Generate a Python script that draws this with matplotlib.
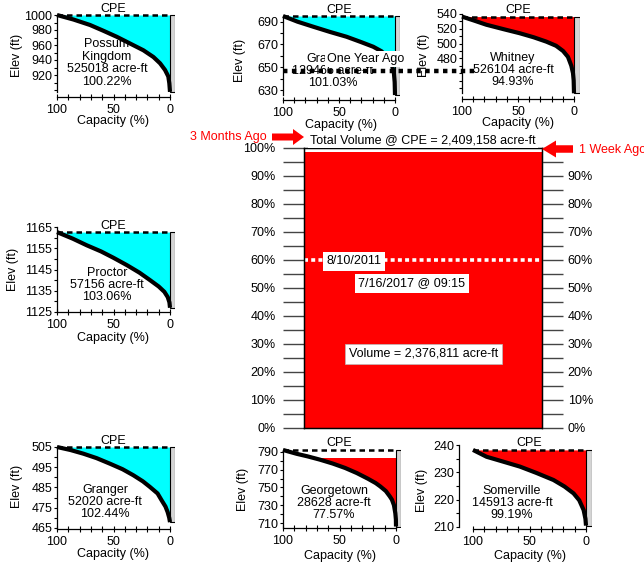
import matplotlib
matplotlib.use('Agg')
import matplotlib.pyplot as plt
from matplotlib.patches import Rectangle, FancyArrow
from matplotlib.ticker import MultipleLocator, FixedLocator

plt.rcParams['font.family'] = ['Liberation Sans', 'DejaVu Sans']
plt.rcParams['font.size'] = 9

W, H = 644, 564

# reservoir data
names = ['Possum\nKingdom', 'Granbury', 'Whitney', 'Proctor', 'Granger', 'Georgetown', 'Somerville']
volumes = [525018, 129466, 526104, 57156, 52020, 28628, 145913]
percents = [100.22, 101.03, 94.93, 103.06, 102.44, 77.57, 99.19]
cpe = [1000, 695, 536.5, 1162.6, 505, 792.3, 238.2]
water = [1000, 695, 536, 1162.6, 505, 783.2, 238.0]
floor = [897.5, 625.6, 432.7, 1127, 467.8, 706, 210.5]

# elevation-capacity curves (capacity %, elevation ft)
pk_cap = [100, 85.5, 70.8, 59, 47.2, 35.4, 23.6, 14.7, 8.8, 4.4, 1.5, 0.6, 0]
pk_elev = [1000, 994, 986.7, 979, 971, 962, 953, 944, 935.6, 926.7, 918, 909, 897.5]
gb_cap = [100, 87, 73, 58, 43.3, 30, 19.4, 12, 6, 2.5, 1, 0.3, 0]
gb_elev = [695, 690, 685.6, 681, 676.8, 672, 668, 664, 658, 651, 645, 637, 625.6]
wh_cap = [100, 89, 78.3, 63, 48.5, 36, 24.7, 16, 9.8, 5.4, 2.4, 0.9, 0.3, 0]
wh_elev = [536.5, 531, 525.5, 519.5, 514, 508.5, 502.6, 497, 490, 482, 470, 460, 450, 432.7]
pr_cap = [100, 86, 73.7, 61, 50, 38, 27, 17.7, 10, 5, 2, 0.5, 0]
pr_elev = [1162.6, 1159.5, 1156.4, 1153.5, 1150.5, 1147, 1143.5, 1140, 1137, 1134.5, 1132, 1129.5, 1127]
gr_cap = [100, 88, 76.7, 65, 53, 42, 32.4, 24, 17.7, 11, 7.4, 4, 2.1, 0.7, 0]
gr_elev = [505, 503.5, 501.7, 499.5, 496.7, 494, 491, 488, 485.2, 482, 478.6, 475.5, 472.8, 470, 467.8]
gt_cap = [100, 88, 78, 67.4, 56, 45, 34.7, 25, 18, 14, 9, 5.5, 3.6, 1.8, 0.6, 0.1, 0]
gt_elev = [792.3, 788, 785, 781.4, 777, 772, 766.3, 760, 755, 751.3, 746, 740, 736.3, 730, 721, 714, 706]
sv_cap = [100, 88, 74, 58.5, 44, 28.8, 19, 11, 6, 2.1, 0.5, 0]
sv_elev = [238.2, 235.7, 234, 232.1, 229.8, 227.2, 224.8, 222.3, 219.8, 216.2, 213, 210.5]
caps = [pk_cap, gb_cap, wh_cap, pr_cap, gr_cap, gt_cap, sv_cap]
elevs = [pk_elev, gb_elev, wh_elev, pr_elev, gr_elev, gt_elev, sv_elev]

yticks = [[900, 920, 940, 960, 980, 1000], [630, 650, 670, 690], [440, 460, 480, 500, 520, 540],
          [1125, 1135, 1145, 1155, 1165], [465, 475, 485, 495, 505], [710, 730, 750, 770, 790],
          [210, 220, 230, 240]]
yhidden = [[900], [], [440, 460], [], [], [], []]
yminor = [10, 10, 10, 5, 5, 10, 5]

# totals
total_cpe = 2409158
total_vol = 2376811
record_low_pct = 60
record_low_date = '8/10/2011'
stamp = '7/16/2017 @ 09:15'

# panel layout in pixels: x of 100%, x of 0%, right edge, (ref elev, ref px, px/ft), top, x-axis y, spine offset
layout = [
    (57, 170, 175, (1000, 15, 0.75), 12, 97, 0),
    (283, 395, 400, (690, 21.7, 1.139), 14, 100, 0),
    (462, 574, 580, (540, 14, 0.739), 11, 99, 0),
    (57, 170, 175, (1165, 227, 2.125), 224, 312, 0),
    (57, 170, 175, (505, 447, 2.02), 444, 529, 0),
    (283, 396, 401, (790, 452, 0.8875), 447, 528, 0),
    (473, 586, 592, (240, 445, 2.733), 442, 529, 10),
]
text_pos = [(107, 63), (333, 71), (513, 70), (107, 285), (105, 502), (334, 503), (512, 503)]
xlab_pos = [(113, 121), (341, 125), (518, 123), (113, 338), (113, 554), (340, 556), (530, 556)]
ylab_pos = [(17, 55), (240, 60), (424, 55), (13, 269), (17, 486), (243, 489), (422, 490)]


def fx(x):
    return x / W


def fy(y):
    return 1 - y / H


fig = plt.figure(figsize=(W / 100, H / 100), dpi=100)

for i in range(len(names)):
    x100, x0, xg, (rv, rp, ppf), top, bot, off = layout[i]
    ax = fig.add_axes([fx(x100), fy(bot), (xg - x100) / W, (bot - top) / H])
    xr = -(xg - x0) * 100 / (x0 - x100)
    ax.set_xlim(100, xr)
    ax.set_ylim(rv - (bot - rp) / ppf, rv + (rp - top) / ppf)
    ax.patch.set_alpha(0)

    color = 'cyan' if percents[i] > 100 else 'red'
    fill = ax.fill_betweenx(elevs[i], caps[i], 0, color=color, lw=0, zorder=1)
    clip = Rectangle((xr, floor[i] - 5), 110, water[i] - floor[i] + 5, transform=ax.transData)
    fill.set_clip_path(clip)
    ax.add_patch(Rectangle((xr, floor[i]), -xr, cpe[i] - floor[i], facecolor='#d4d4d4',
                           edgecolor='black', lw=0.8, zorder=2))
    ax.plot(caps[i], elevs[i], color='black', lw=3, zorder=4, clip_on=False, solid_capstyle='butt')
    ax.plot([100, 0], [cpe[i], cpe[i]], color='black', lw=1.8, dashes=(2.2, 1.6), zorder=3, clip_on=False)
    ax.annotate('CPE', xy=(50, cpe[i]), xytext=(0, 2.5), textcoords='offset points',
                ha='center', va='baseline', fontsize=9)

    for s in ['top', 'right']:
        ax.spines[s].set_visible(False)
    ax.spines['bottom'].set_bounds(0, 100)
    ax.spines['left'].set_bounds(min(floor[i], min(yticks[i])), max(cpe[i], max(yticks[i])))
    ax.spines['left'].set_position(('outward', off))
    for s in ['left', 'bottom']:
        ax.spines[s].set_linewidth(0.9)

    ax.set_xticks([0, 50, 100])
    ax.set_xticklabels(['0', '50', '100'])
    ax.xaxis.set_minor_locator(MultipleLocator(10))
    ax.set_yticks(yticks[i])
    ax.set_yticklabels(['' if t in yhidden[i] else str(t) for t in yticks[i]])
    lo = min(yticks[i])
    ax.yaxis.set_minor_locator(FixedLocator([t for t in range(lo, max(yticks[i]) + 1, yminor[i])
                                             if t not in yticks[i]]))
    ax.tick_params(axis='x', which='both', direction='inout', length=5, width=0.8, pad=2.5, labelsize=9)
    ax.tick_params(axis='y', which='both', direction='out', length=2.5, width=0.8, pad=1, labelsize=9)

    ax.set_xlabel('Capacity (%)', fontsize=9, va='center')
    ax.xaxis.set_label_coords(fx(xlab_pos[i][0]), fy(xlab_pos[i][1]), transform=fig.transFigure)
    ax.set_ylabel('Elev (ft)', fontsize=9, va='center')
    ax.yaxis.set_label_coords(fx(ylab_pos[i][0]), fy(ylab_pos[i][1]), transform=fig.transFigure)

# total volume panel
bx = fig.add_axes([fx(304), fy(428), (542 - 304) / W, (428 - 148) / H])
bx.bar([0], [total_vol / total_cpe * 100], width=1, color='red', zorder=1)
bx.set_xlim(-0.5, 0.5)
bx.set_ylim(0, 100)
bx.set_xticks([])
bx.axhline(record_low_pct, color='white', lw=2.6, dashes=(1.1, 0.9), zorder=2)
for s in bx.spines.values():
    s.set_linewidth(1)
    s.set_zorder(3)
major = list(range(0, 101, 10))
bx.set_yticks(major)
bx.set_yticklabels([f'{t}%' for t in major])
bx.yaxis.set_minor_locator(FixedLocator(list(range(5, 100, 10))))
bx.tick_params(axis='y', which='both', direction='out', length=15, width=1, color='#444444', pad=5.5, labelsize=9)
bx2 = bx.twinx()
bx2.set_ylim(0, 100)
bx2.set_yticks(major)
bx2.set_yticklabels([f'{t}%' for t in major[:-1]] + [''])
bx2.yaxis.set_minor_locator(FixedLocator(list(range(5, 100, 10))))
bx2.tick_params(axis='y', which='both', direction='out', length=15, width=1, color='#444444', pad=3.5, labelsize=9)

# overlay in pixel coordinates for annotations
ov = fig.add_axes([0, 0, 1, 1], zorder=10)
ov.set_xlim(0, W)
ov.set_ylim(H, 0)
ov.axis('off')

for i in range(len(names)):
    ov.text(text_pos[i][0], text_pos[i][1], f'{names[i]}\n{volumes[i]} acre-ft\n{percents[i]:.2f}%',
            ha='center', va='center', fontsize=9, linespacing=1.05, zorder=2)

ov.plot([283, 476], [71, 71], color='black', lw=3.2, dashes=(1, 1), zorder=3, solid_capstyle='butt')
ov.text(366, 59, 'One Year Ago', ha='center', va='center', fontsize=9, zorder=4,
        bbox=dict(facecolor='white', edgecolor='none', pad=1.5))

ov.text(423, 140, f'Total Volume @ CPE = {total_cpe:,} acre-ft', ha='center', va='center', fontsize=9,
        zorder=4, bbox=dict(facecolor='white', edgecolor='none', pad=1.5))
ov.text(354, 261, record_low_date, ha='center', va='center', fontsize=9, zorder=4,
        bbox=dict(facecolor='white', edgecolor='none', pad=2.5))
ov.text(412, 283, stamp, ha='center', va='center', fontsize=9, zorder=4,
        bbox=dict(facecolor='white', edgecolor='none', pad=2.5))
ov.text(423.5, 354, f'Volume = {total_vol:,} acre-ft', ha='center', va='center', fontsize=9, zorder=4,
        bbox=dict(facecolor='white', edgecolor='#bbbbbb', lw=0.5, pad=3))

ov.add_patch(FancyArrow(272, 137, 32, 0, width=7, head_width=16, head_length=11,
                        length_includes_head=True, color='red', lw=0, zorder=5))
ov.text(267, 137, '3 Months Ago', ha='right', va='center', color='red', fontsize=9)
ov.add_patch(FancyArrow(573, 149, -31, 0, width=7.5, head_width=17, head_length=14,
                        length_includes_head=True, color='red', lw=0, zorder=5))
ov.text(579, 150, '1 Week Ago', ha='left', va='center', color='red', fontsize=9)

fig.savefig('out.png', dpi=100)
